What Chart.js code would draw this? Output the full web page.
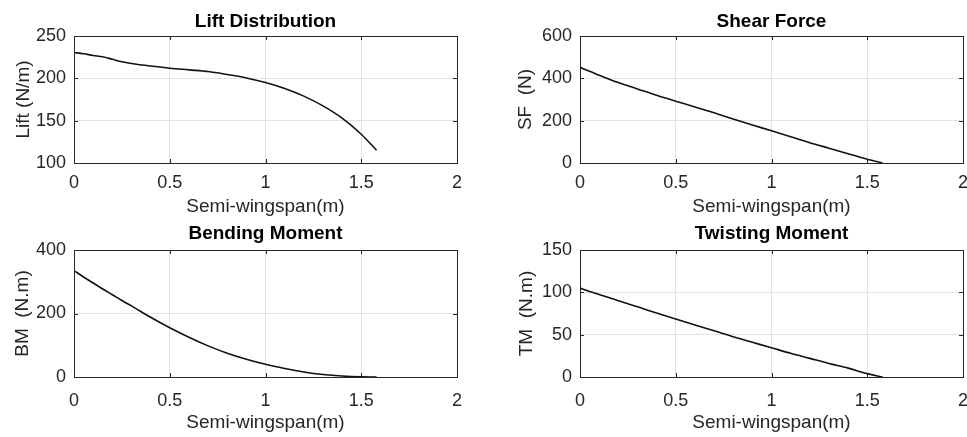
<!DOCTYPE html>
<html>
<head>
<meta charset="utf-8">
<title>Wing loads</title>
<script src="https://cdn.jsdelivr.net/npm/chart.js@4.4.1/dist/chart.umd.min.js"></script>
<style>
  body { margin: 0; background: #fff; }
  #wrap { position: relative; width: 967px; height: 437px; overflow: hidden; }
  canvas { position: absolute; }
</style>
</head>
<body>
<div id="wrap">
  <canvas id="lift" width="480" height="218" style="left:0;top:0"></canvas>
  <canvas id="shear" width="487" height="218" style="left:480px;top:0"></canvas>
  <canvas id="bending" width="480" height="219" style="left:0;top:218px"></canvas>
  <canvas id="twisting" width="487" height="219" style="left:480px;top:218px"></canvas>
</div>
<script>
// semi-wingspan stations (m)
const spanX = [0, 0.05, 0.1, 0.15, 0.2, 0.25, 0.3, 0.4, 0.5, 0.6, 0.7, 0.8, 0.9, 1.0, 1.1, 1.2, 1.3, 1.4, 1.5, 1.58];

// values
const liftValues = [230.5, 229, 227, 225.5, 222.5, 219.5, 217.5, 214.5, 212, 210, 208, 204.5, 200.5, 195, 188, 179, 167.5, 153, 134, 115];
const shearValues = [452, 433, 415, 397, 380, 365, 350, 320, 292, 265, 237, 208, 180, 152, 124, 96, 70, 44, 18, 0];
const bendingValues = [335, 315, 296, 277, 259, 241, 224, 188, 155, 125, 98, 75, 56, 40, 27, 16, 8, 3, 0.5, 0];
const twistingValues = [105, 101, 97.5, 94, 90, 86.5, 83, 75.5, 68.5, 61.5, 54.5, 47.5, 41, 34.5, 28, 22, 16, 10.5, 4, 0];

const xTicks = [0, 0.5, 1, 1.5, 2];

const FONT = 'Liberation Sans, Arial, Helvetica, sans-serif';
const INK = '#262626';

// MATLAB-like box with inward tick marks
const framePlugin = {
  id: 'frame',
  afterDraw(chart) {
    const { ctx, chartArea: a, scales } = chart;
    ctx.save();
    ctx.strokeStyle = INK;
    ctx.lineWidth = 1;
    ctx.beginPath();
    scales.x.ticks.forEach(t => {
      const px = Math.round(scales.x.getPixelForValue(t.value)) + 0.5;
      ctx.moveTo(px, a.bottom); ctx.lineTo(px, a.bottom - 4);
      ctx.moveTo(px, a.top); ctx.lineTo(px, a.top + 4);
    });
    scales.y.ticks.forEach(t => {
      const py = Math.round(scales.y.getPixelForValue(t.value)) + 0.5;
      ctx.moveTo(a.left, py); ctx.lineTo(a.left + 4, py);
      ctx.moveTo(a.right, py); ctx.lineTo(a.right - 4, py);
    });
    ctx.stroke();
    ctx.strokeRect(a.left + 0.5, a.top + 0.5, a.right - a.left, a.bottom - a.top);
    ctx.restore();
  }
};

function makeChart(id, values, o) {
  const points = spanX.map((x, i) => ({ x: x, y: values[i] }));
  return new Chart(document.getElementById(id), {
    type: 'line',
    data: {
      datasets: [{
        data: points,
        borderColor: '#111',
        borderWidth: 1.6,
        pointRadius: 0,
        fill: false,
        cubicInterpolationMode: 'monotone'
      }]
    },
    options: {
      responsive: false,
      animation: false,
      layout: { padding: { left: 0, right: o.rightPad, top: 0, bottom: 0 } },
      plugins: {
        legend: { display: false },
        tooltip: { enabled: false },
        title: {
          display: true,
          text: o.title,
          fullSize: false,
          color: '#000',
          font: { family: FONT, size: 19, weight: 'bold' },
          padding: o.titlePad
        }
      },
      scales: {
        x: {
          type: 'linear',
          min: 0, max: 2,
          afterBuildTicks(scale) { scale.ticks = xTicks.map(v => ({ value: v })); },
          ticks: {
            color: INK, font: { family: FONT, size: 18 }, padding: o.xTickPad, maxRotation: 0,
            callback: v => String(v)
          },
          grid: { color: '#e3e3e3', drawTicks: false },
          border: { display: false },
          title: {
            display: true,
            text: 'Semi-wingspan(m)',
            color: INK,
            font: { family: FONT, size: 19 },
            padding: { top: 0, bottom: o.xTitlePad }
          },
          afterFit(scale) { scale.height = o.xHeight; scale.paddingLeft = 0; scale.paddingRight = 0; }
        },
        y: {
          min: o.yMin, max: o.yMax,
          ticks: { stepSize: o.yStep, color: INK, font: { family: FONT, size: 18 }, padding: 8 },
          grid: { color: '#e3e3e3', drawTicks: false },
          border: { display: false },
          title: {
            display: true,
            text: o.yLabel,
            color: INK,
            font: { family: FONT, size: 19 },
            padding: { top: o.yTitlePad, bottom: 0 }
          },
          afterFit(scale) { scale.width = o.yWidth; scale.paddingTop = 0; scale.paddingBottom = 0; }
        }
      }
    },
    plugins: [framePlugin]
  });
}

const topRow = { titlePad: { top: 10.1, bottom: 3.1 }, xHeight: 55, xTickPad: 9.5, xTitlePad: 0 };
const bottomRow = { titlePad: { top: 4.3, bottom: 4.9 }, xHeight: 60, xTickPad: 13, xTitlePad: 3.1 };

makeChart('lift', liftValues, Object.assign({}, topRow, {
  title: 'Lift Distribution', yLabel: 'Lift (N/m)', yMin: 100, yMax: 250, yStep: 50,
  yWidth: 74, rightPad: 23, yTitlePad: 11.9
}));
makeChart('shear', shearValues, Object.assign({}, topRow, {
  title: 'Shear Force', yLabel: 'SF  (N)', yMin: 0, yMax: 600, yStep: 200,
  yWidth: 100, rightPad: 4, yTitlePad: 33.9
}));
makeChart('bending', bendingValues, Object.assign({}, bottomRow, {
  title: 'Bending Moment', yLabel: 'BM  (N.m)', yMin: 0, yMax: 400, yStep: 200,
  yWidth: 74, rightPad: 23, yTitlePad: 11.1
}));
makeChart('twisting', twistingValues, Object.assign({}, bottomRow, {
  title: 'Twisting Moment', yLabel: 'TM  (N.m)', yMin: 0, yMax: 150, yStep: 50,
  yWidth: 100, rightPad: 4, yTitlePad: 35.4
}));
</script>
</body>
</html>
